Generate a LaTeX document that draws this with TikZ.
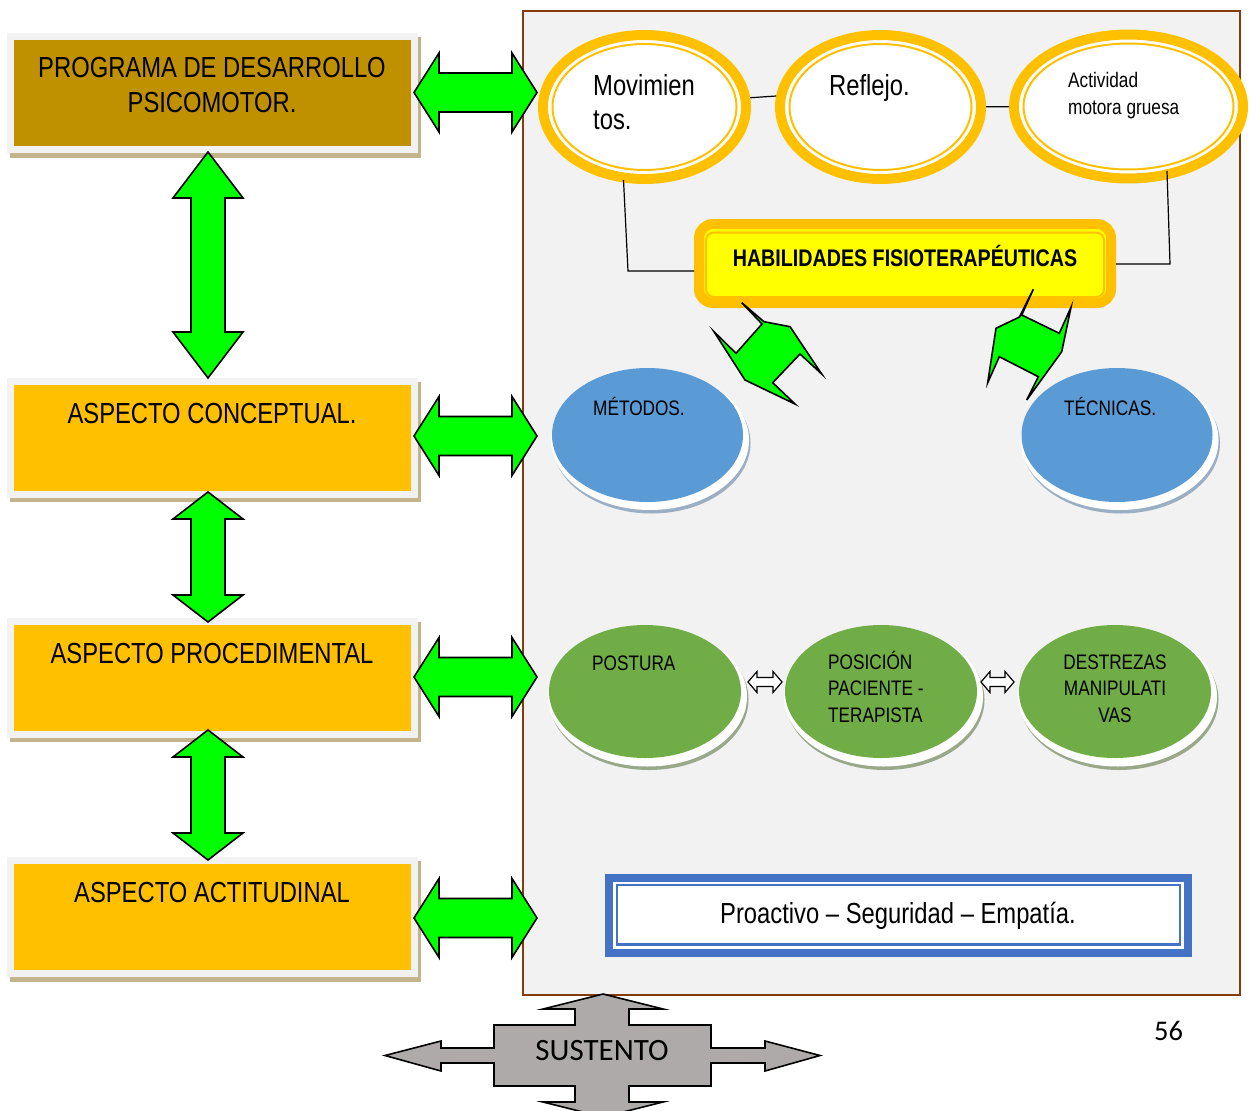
\documentclass[tikz,border=0pt]{standalone}
\usepackage{fontspec}
\setmainfont{Liberation Sans}[FakeStretch=0.82]
\newfontfamily\calib{Carlito}
\usetikzlibrary{shapes.geometric,calc}
\definecolor{cGold}{HTML}{BF9000}
\definecolor{cAmber}{HTML}{FFC000}
\definecolor{cGreen}{HTML}{00FF00}
\definecolor{cBlueE}{HTML}{5B9BD5}
\definecolor{cGreenE}{HTML}{70AD47}
\definecolor{cPanel}{HTML}{F2F2F2}
\definecolor{cBrown}{HTML}{843C0C}
\definecolor{cTan}{HTML}{C4B48C}
\definecolor{cFrame}{HTML}{F2F2F2}
\definecolor{cBox}{HTML}{4472C4}
\definecolor{cGrayS}{HTML}{AEAAAA}
\definecolor{cShB}{HTML}{9AAEC4}
\definecolor{cShG}{HTML}{9AA88A}
\definecolor{cYel}{HTML}{FFFF00}
\newcommand\dbarH[7][]{%
 \draw[#1] (#2,#4) -- ({#2+#5},{#4-#6}) -- ({#2+#5},{#4-#7}) -- ({#3-#5},{#4-#7}) -- ({#3-#5},{#4-#6}) -- (#3,#4) -- ({#3-#5},{#4+#6}) -- ({#3-#5},{#4+#7}) -- ({#2+#5},{#4+#7}) -- ({#2+#5},{#4+#6}) -- cycle;}
\newcommand\dbarV[7][]{%
 \draw[#1] (#4,#2) -- ({#4-#6},{#2+#5}) -- ({#4-#7},{#2+#5}) -- ({#4-#7},{#3-#5}) -- ({#4-#6},{#3-#5}) -- (#4,#3) -- ({#4+#6},{#3-#5}) -- ({#4+#7},{#3-#5}) -- ({#4+#7},{#2+#5}) -- ({#4+#6},{#2+#5}) -- cycle;}
\begin{document}
\begin{tikzpicture}[x=1pt,y=-1pt,
  garrow/.style={fill=cGreen, draw=black, line width=1.6pt, line join=miter},
  warrow/.style={fill=white, draw=black, line width=1.2pt, line join=miter},
  lbox/.style={rectangle, draw=cFrame, line width=7pt, minimum width=404pt, minimum height=113pt, inner sep=0pt},
  big/.style={inner sep=0pt, font=\fontsize{29}{34}\selectfont},
  small/.style={inner sep=0pt, font=\fontsize{21}{25}\selectfont},
  topell/.style={ellipse, fill=white, draw=cAmber, line width=10pt, inner sep=0pt, minimum height=144pt},
  ring/.style={draw=cAmber, line width=2pt},
  blueell/.style={ellipse, fill=cBlueE, inner sep=0pt, minimum width=191pt, minimum height=134pt},
  greenell/.style={ellipse, fill=cGreenE, inner sep=0pt, minimum width=192pt, minimum height=133pt},
  conn/.style={draw=black, line width=1.2pt},
  panel/.style={draw=cBrown, line width=1.5pt, fill=cPanel, inner sep=0pt, minimum width=717pt, minimum height=984pt}]
\useasboundingbox (0,0) rectangle (1249,1110);
\clip (0,0) rectangle (1249,1110);
\fill[white] (0,0) rectangle (1249,1110);

% right panel
\node[panel] (panel) at (881.5,503) {};

% left boxes
\fill[cTan] (10,37) rectangle (421,158);
\node[lbox, fill=cGold] (b1) at (212.5,93) {};
\fill[cTan] (10,382) rectangle (421,502);
\node[lbox, fill=cAmber] (b2) at (212.5,437.5) {};
\fill[cTan] (10,622) rectangle (421,742);
\node[lbox, fill=cAmber] (b3) at (212.5,677.5) {};
\fill[cTan] (10,861) rectangle (421,982);
\node[lbox, fill=cAmber] (b4) at (212.5,917) {};

\node[big, anchor=base] (t1a) at (212,78) {PROGRAMA DE DESARROLLO};
\node[big, anchor=base] (t1b) at (212,113) {PSICOMOTOR.};
\node[big, anchor=base] (t2) at (212,423) {ASPECTO CONCEPTUAL.};
\node[big, anchor=base] (t3) at (212,663) {ASPECTO PROCEDIMENTAL};
\node[big, anchor=base] (t4) at (212,902) {ASPECTO ACTITUDINAL};

% vertical arrows
\dbarV[garrow]{152}{378}{208}{46}{35}{17}
\dbarV[garrow]{492}{622}{208}{27}{35}{17}
\dbarV[garrow]{730}{860}{208}{27}{35}{17}

% horizontal arrows
\dbarH[garrow]{414}{537}{92.5}{25}{39.5}{19.5}
\dbarH[garrow]{414}{537}{436}{25}{39.5}{19.5}
\dbarH[garrow]{414}{537}{677}{25}{39.5}{19.5}
\dbarH[garrow]{414}{537}{918}{25}{39.5}{19.5}

% top ellipses
\node[topell, minimum width=203pt] (e1) at (644.5,107) {};
\draw[ring] (e1.center) ellipse [x radius=92pt, y radius=63pt];
\node[topell, minimum width=201pt] (e2) at (880.5,107) {};
\draw[ring] (e2.center) ellipse [x radius=91pt, y radius=63pt];
\node[topell, minimum width=229pt] (e3) at (1128.5,106.5) {};
\draw[ring] (e3.center) ellipse [x radius=105pt, y radius=63pt];

\node[big, anchor=base west] (e1a) at (593,96) {Movimien};
\node[big, anchor=base west] (e1b) at (593,130) {tos.};
\node[big, anchor=base west] (e2a) at (829,96) {Reflejo.};
\node[small, anchor=base west] (e3a) at (1068,88) {Actividad};
\node[small, anchor=base west] (e3b) at (1068,115) {motora gruesa};

% habilidades box
\node[rectangle, rounded corners=14pt, draw=cAmber, line width=10pt, fill=cYel,
  minimum width=412pt, minimum height=79pt, inner sep=0pt] (hab) at (905,263.5) {};
\draw[cAmber, line width=2pt, rounded corners=8pt] (706,232.5) rectangle (1104,297);
\node[inner sep=0pt, anchor=base, font=\fontsize{24}{28}\selectfont\bfseries] (habt) at (905,266) {HABILIDADES FISIOTERAPÉUTICAS};

% connectors
\draw[conn] (e1.5) -- (e2.174);
\draw[conn] (e2) -- (e3);
\coordinate (c1) at (628,271);
\draw[conn] ($(e1.center)+(-21,73)$) -- (c1) -- (c1 -| hab.west);
\coordinate (c2) at (1170,264);
\draw[conn] ($(e3.center)+(38.5,64.5)$) -- (c2) -- (c2 -| hab.east);

% diagonal arrows
\draw[garrow] (741.7,302.7) -- (764,321.7) -- (790,326.7) -- (821.7,374) -- (800,354) -- (772.7,382.7) -- (795,404) -- (745,380) -- (714,331.7) -- (736,353.3) -- (762,324) -- cycle;
\draw[garrow] (1033.3,289.3) -- (1021.7,315) -- (1059.3,333.3) -- (1071,307.3) -- (1061.7,351.7) -- (1026.7,400) -- (1038.3,376.7) -- (999.3,356.7) -- (987.7,382.7) -- (996,328.3) -- (1019.5,317) -- cycle;

% blue ellipses
\fill[cShB] (651.5,443) ellipse [x radius=99pt, y radius=70.5pt];
\fill[white] (650,440) ellipse [x radius=99pt, y radius=70pt];
\node[blueell] (met) at (647.5,435) {};
\node[small, anchor=base west] (mett) at (593,415) {MÉTODOS.};
\fill[cShB] (1121,443) ellipse [x radius=99pt, y radius=70.5pt];
\fill[white] (1119.5,440) ellipse [x radius=99pt, y radius=70pt];
\node[blueell] (tec) at (1117,435) {};
\node[small, anchor=base west] (tect) at (1064,415) {TÉCNICAS.};

% green ellipses
\fill[cShG] (649,699.5) ellipse [x radius=99.5pt, y radius=70.5pt];
\fill[white] (647.5,696.5) ellipse [x radius=99.5pt, y radius=70pt];
\node[greenell] (pos) at (645,691.5) {};
\fill[cShG] (885,699.5) ellipse [x radius=99.5pt, y radius=70.5pt];
\fill[white] (883.5,696.5) ellipse [x radius=99.5pt, y radius=70pt];
\node[greenell] (pac) at (881,691.5) {};
\fill[cShG] (1119,699.5) ellipse [x radius=99.5pt, y radius=70.5pt];
\fill[white] (1117.5,696.5) ellipse [x radius=99.5pt, y radius=70pt];
\node[greenell] (des) at (1115,691.5) {};

\node[small, anchor=base west] (post) at (592,670) {POSTURA};
\node[small, anchor=base west] (paca) at (828,669) {POSICIÓN};
\node[small, anchor=base west] (pacb) at (828,695.5) {PACIENTE -};
\node[small, anchor=base west] (pacc) at (828,722) {TERAPISTA};
\node[small, anchor=base] (desa) at (1115,669) {DESTREZAS};
\node[small, anchor=base] (desb) at (1115,695.5) {MANIPULATI};
\node[small, anchor=base] (desc) at (1115,722) {VAS};

% small white double arrows
\dbarH[warrow]{748}{782}{682}{9}{10.5}{4.5}
\dbarH[warrow]{981}{1014}{682}{9}{10.5}{4.5}

% actitudinal box
\node[rectangle, draw=cBox, line width=8pt, fill=white, minimum width=579pt, minimum height=75pt, inner sep=0pt] (pro) at (898.5,915.5) {};
\draw[cBox, line width=2.5pt] (617,885) rectangle (1180,944.5);
\node[big, anchor=base] (prot) at (898,923) {Proactivo – Seguridad – Empatía.};

% sustento
\draw[fill=cGrayS, draw=black, line width=1.6pt, line join=miter]
 (603,994) -- (663,1009) -- (629,1009) -- (629,1025) -- (711,1025) -- (711,1048) -- (765,1048) -- (765,1041) -- (820,1055.5) -- (765,1071) -- (765,1063) -- (711,1063) -- (711,1086) -- (629,1086) -- (629,1102) -- (663,1102) -- (603,1117) -- (543,1102) -- (575,1102) -- (575,1086) -- (494,1086) -- (494,1063) -- (441,1063) -- (441,1071) -- (385,1055.5) -- (441,1041) -- (441,1048) -- (494,1048) -- (494,1025) -- (575,1025) -- (575,1009) -- (543,1009) -- cycle;
\node[inner sep=0pt, anchor=base, font=\calib\fontsize{31}{36}\selectfont] (sus) at (602,1060) {SUSTENTO};

% page number
\node[inner sep=0pt, anchor=base, font=\calib\fontsize{28.5}{32}\selectfont] (pg) at (1168.5,1040) {56};
\end{tikzpicture}
\end{document}
